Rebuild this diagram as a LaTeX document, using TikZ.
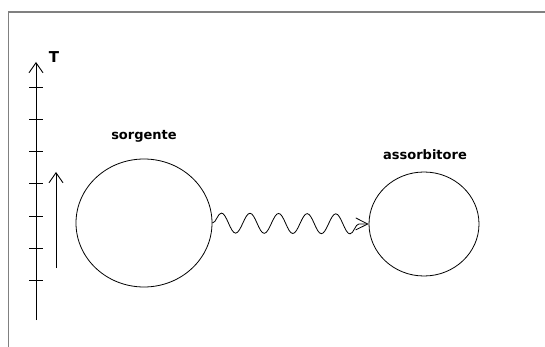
\documentclass[tikz,border=0pt]{standalone}
\usepackage{fontspec}
\setmainfont{DejaVu Sans}
\usetikzlibrary{arrows.meta, positioning, shapes.geometric, decorations.pathmorphing}

\tikzset{
  body/.style={ellipse, draw, line width=0.8pt, inner sep=0pt},
  lbl/.style={font=\bfseries\fontsize{13}{15}\selectfont},
  axis/.style={line width=1pt, -{Straight Barb[length=10pt, width=14pt, line width=0.9pt]}},
  wave/.style={line width=0.8pt, decorate, decoration={snake, segment length=28.6pt, amplitude=10pt, post length=9pt},
    -{Straight Barb[length=12pt, width=12pt, line width=0.8pt]}}
}

\begin{document}
\begin{tikzpicture}[x=1pt, y=-1pt]
  \useasboundingbox (0,0) rectangle (545,347);
  % frame
  \draw[gray, line width=1.3pt] (8.5,347) -- (8.5,12) -- (545,12);

  % temperature axis
  \coordinate (axisbot) at (36,320);
  \coordinate (axistop) at (36,62);
  \draw[axis] (axisbot) -- (axistop);
  \foreach \y in {88,120,...,281}
    \draw[line width=1pt] (29,\y) -- (43,\y);
  \node[font=\bfseries\fontsize{15}{16}\selectfont] (T) at (54,57) {T};

  \coordinate (risebot) at (56,268);
  \coordinate (risetop) at (56,172);
  \draw[axis] (risebot) -- (risetop);

  % bodies
  \node[body, minimum width=136pt, minimum height=128pt] (src) at (144,223) {};
  \node[body, minimum width=110pt, minimum height=104pt] (abs) at (424,224) {};
  \node[lbl] (srclbl) at (144,136) {sorgente};
  \node[lbl] (abslbl) at (425,155) {assorbitore};

  \draw[wave] (src.east) -- (abs.west);
\end{tikzpicture}
\end{document}
